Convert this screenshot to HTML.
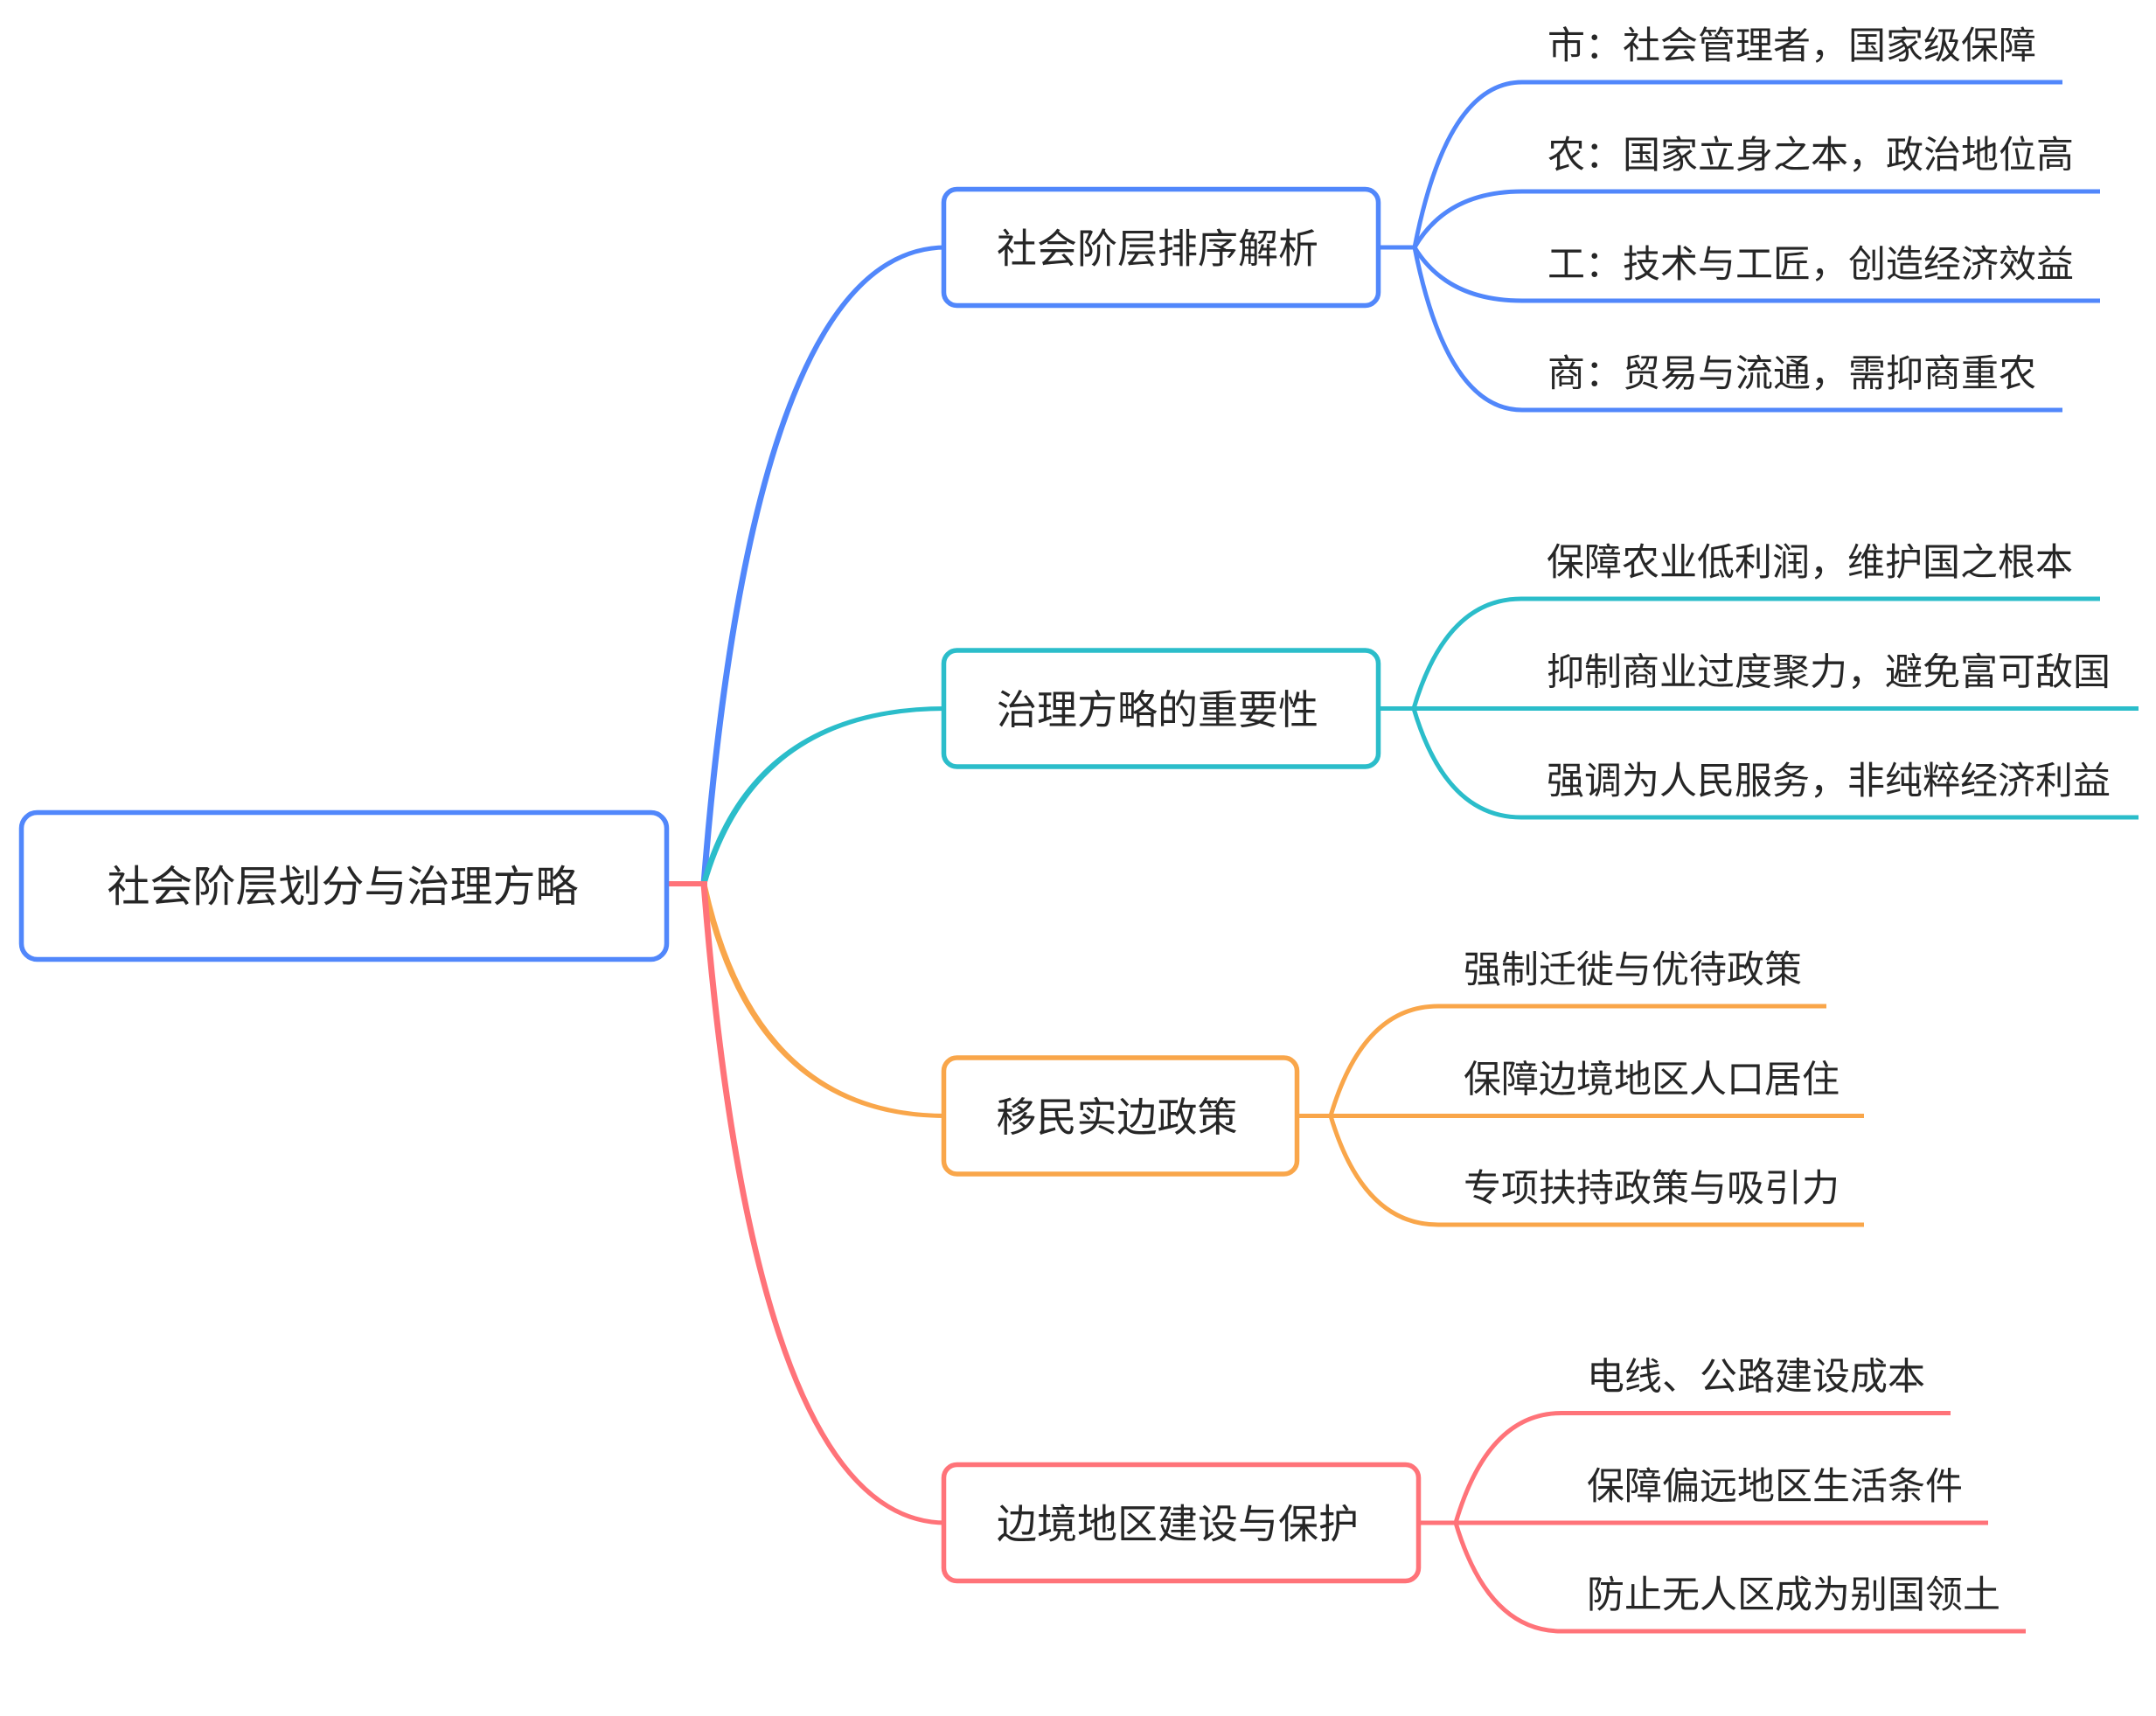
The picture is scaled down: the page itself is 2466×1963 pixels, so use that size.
<!DOCTYPE html>
<html>
<head>
<meta charset="utf-8">
<style>
html,body{margin:0;padding:0;background:#fff;}
svg{display:block;}
text{font-family:"Liberation Sans","Noto Sans CJK SC",sans-serif;fill:#262626;}
.c{font-size:43px;}
.b{font-size:46px;text-anchor:middle;}
.r{font-size:49px;text-anchor:middle;}
</style>
</head>
<body>
<svg width="2466" height="1963" viewBox="0 0 2466 1963" xmlns="http://www.w3.org/2000/svg">
<rect width="2466" height="1963" fill="#fff"/>

<!-- root branch curves (tapered) -->
<path d="M801.5,1011 Q858.5,280.5 1082,280.5 L1082,285.5 Q865.5,285.5 808.5,1011 Z" fill="#5187FB"/>
<path d="M801.5,1011 Q858.5,808 1082,808 L1082,813 Q865.5,813 808.5,1011 Z" fill="#2BBDCA"/>
<path d="M801.5,1011 Q858.5,1279 1082,1279 L1082,1274 Q865.5,1274 808.5,1011 Z" fill="#F9A64A"/>
<path d="M801.5,1011 Q858.5,1744.5 1082,1744.5 L1082,1739.5 Q865.5,1739.5 808.5,1011 Z" fill="#FF7379"/>

<!-- root stub -->
<line x1="758" y1="1011" x2="809" y2="1011" stroke="#FF7379" stroke-width="6"/>

<!-- Branch 1 children -->
<g fill="none" stroke="#5187FB" stroke-width="5">
<line x1="1575" y1="283" x2="1619" y2="283"/>
<path d="M1618,283 Q1655,94 1741,94 L2359,94"/>
<path d="M1618,283 Q1655,219 1741,219 L2402,219"/>
<path d="M1618,283 Q1655,344 1741,344 L2402,344"/>
<path d="M1618,283 Q1655,469 1741,469 L2359,469"/>
</g>
<!-- Branch 2 children -->
<g fill="none" stroke="#2BBDCA" stroke-width="5">
<line x1="1575" y1="810.5" x2="1618" y2="810.5"/>
<path d="M1617,810.5 Q1654,685 1740,685 L2402,685"/>
<path d="M1617,810.5 L2446,810.5"/>
<path d="M1617,810.5 Q1654,935 1740,935 L2446,935"/>
</g>
<!-- Branch 3 children -->
<g fill="none" stroke="#F9A64A" stroke-width="5">
<line x1="1482" y1="1276.5" x2="1523" y2="1276.5"/>
<path d="M1522,1276.5 Q1559,1151 1645,1151 L2089,1151"/>
<path d="M1522,1276.5 L2132,1276.5"/>
<path d="M1522,1276.5 Q1559,1401 1645,1401 L2132,1401"/>
</g>
<!-- Branch 4 children -->
<g fill="none" stroke="#FF7379" stroke-width="5">
<line x1="1621" y1="1742" x2="1666" y2="1742"/>
<path d="M1665,1742 Q1702,1616.5 1786,1616.5 L2231,1616.5"/>
<path d="M1665,1742 L2274,1742"/>
<path d="M1665,1742 Q1702,1866 1786,1866 L2317,1866"/>
</g>

<!-- Boxes -->
<rect x="24.5" y="929.5" width="738" height="168" rx="18" ry="18" fill="#fff" stroke="#5187FB" stroke-width="5.5"/>
<rect x="1079.5" y="216.5" width="497" height="133" rx="15" ry="15" fill="#fff" stroke="#5187FB" stroke-width="5.5"/>
<rect x="1079.5" y="744" width="497" height="133" rx="15" ry="15" fill="#fff" stroke="#2BBDCA" stroke-width="5.5"/>
<rect x="1079.5" y="1210" width="404" height="133" rx="15" ry="15" fill="#fff" stroke="#F9A64A" stroke-width="5.5"/>
<rect x="1079.5" y="1675.5" width="543" height="133" rx="15" ry="15" fill="#fff" stroke="#FF7379" stroke-width="5.5"/>

<!-- Box text -->
<text class="r" x="392" y="1031">社会阶层划分与治理方略</text>
<text class="b" x="1324" y="300.5">社会阶层排序解析</text>
<text class="b" x="1324" y="828">治理方略的重要性</text>
<text class="b" x="1277.5" y="1294">移民实边政策</text>
<text class="b" x="1347" y="1759.5">边境地区建设与保护</text>

<!-- Child text -->
<text class="c" x="1770" y="67">市：社会管理者，国家级保障</text>
<text class="c" x="1770" y="192">农：国家立身之本，政治地位高</text>
<text class="c" x="1770" y="317">工：技术与工匠，创造经济效益</text>
<text class="c" x="1770" y="442">商：贸易与流通，需抑商重农</text>

<text class="c" x="1769" y="658">保障农业低利润，维护国之根本</text>
<text class="c" x="1769" y="783.5">抑制商业过度聚力，避免富可敌国</text>
<text class="c" x="1769" y="908">强调为人民服务，非纯粹经济利益</text>

<text class="c" x="1674" y="1124">强制迁徙与优待政策</text>
<text class="c" x="1674" y="1249.5">保障边境地区人口居住</text>
<text class="c" x="1674" y="1374">专项扶持政策与吸引力</text>

<text class="c" x="1815" y="1589.5">电线、公路建设成本</text>
<text class="c" x="1815" y="1715">保障偏远地区生活条件</text>
<text class="c" x="1815" y="1839">防止无人区成为别国领土</text>
</svg>
</body>
</html>
